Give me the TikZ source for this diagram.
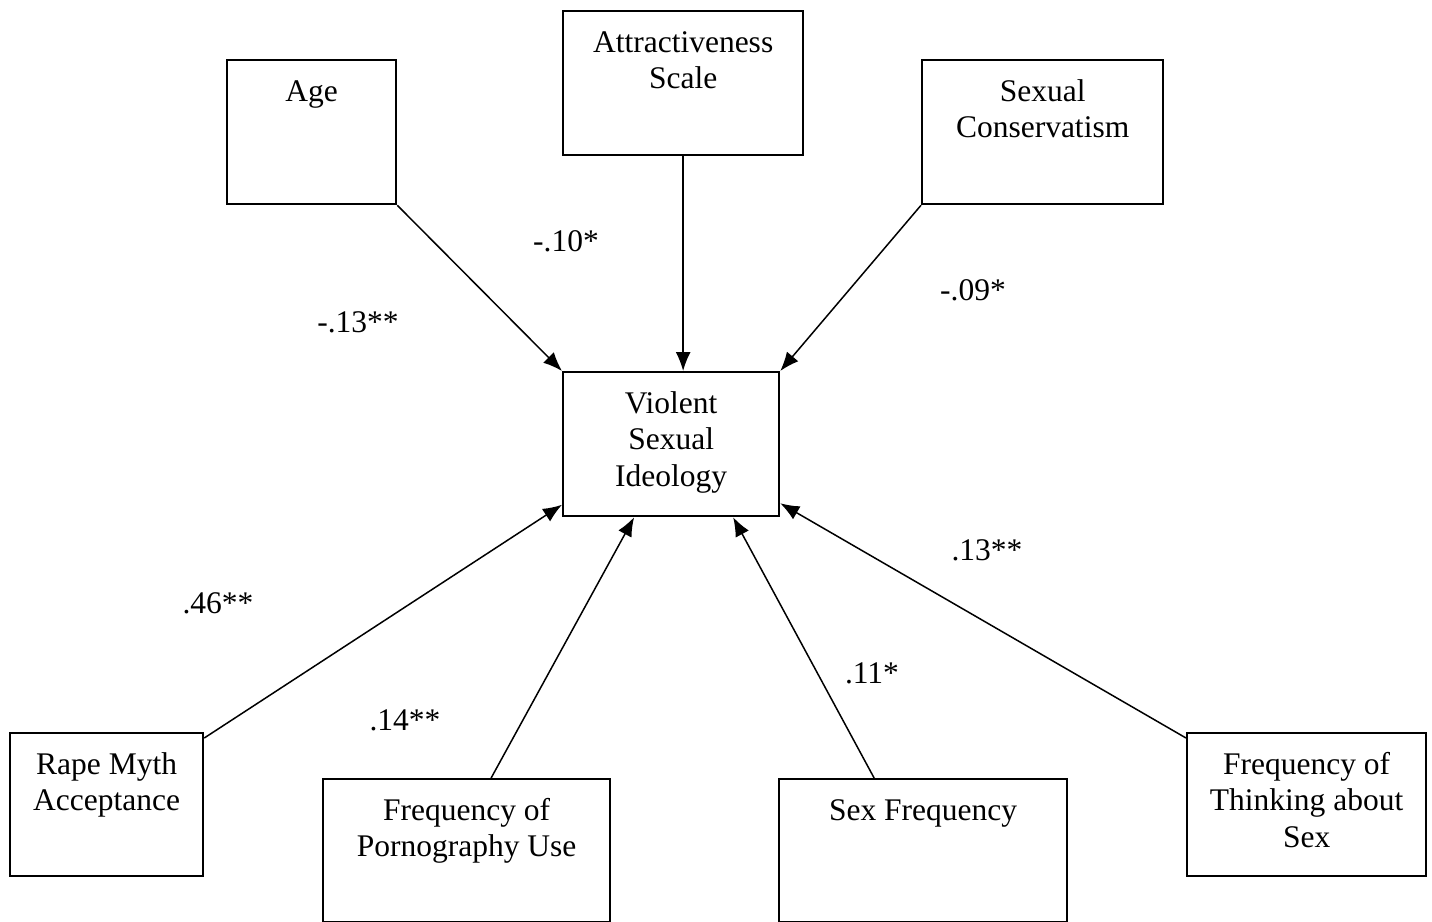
\documentclass[tikz,border=0pt]{standalone}
\usepackage{fontspec}
\setmainfont{Liberation Serif}
\usetikzlibrary{arrows.meta}

\newcommand{\boxtext}[3]{\parbox[t][#2][t]{#1}{\centering\vspace*{6.2pt}\strut#3}}

\begin{document}
\begin{tikzpicture}[x=0.4pt,y=-0.4pt,
    font=\fontsize{12.6}{14.6}\selectfont,
    var/.style={draw, line width=0.9pt, inner sep=0pt, anchor=north west},
    arr/.style={-{Latex[length=7.6pt,width=6pt]}, line width=0.6pt},
    coef/.style={inner sep=0pt}]
            \useasboundingbox (0,0) rectangle (1432,921);

            % outcome
            \node[var] (vsi) at (562,371) {\boxtext{86.4pt}{57.6pt}{Violent\\Sexual\\Ideology}};

            % predictors, top row
            \node[var] (age) at (226,59) {\boxtext{67.6pt}{57.6pt}{Age}};
            \node[var] (attract) at (562,10) {\boxtext{96pt}{57.6pt}{Attractiveness\\Scale}};
            \node[var] (conserv) at (921,59) {\boxtext{96.4pt}{57.6pt}{Sexual\\Conservatism}};

            % predictors, bottom row
            \node[var] (rma) at (9,732) {\boxtext{77.2pt}{57.2pt}{Rape Myth\\Acceptance}};
            \node[var] (porn) at (322,778) {\boxtext{114.8pt}{57.2pt}{Frequency of\\Pornography Use}};
            \node[var] (sexfreq) at (778,778) {\boxtext{115.2pt}{57.2pt}{Sex Frequency}};
            \node[var] (think) at (1186,732) {\boxtext{95.6pt}{57.2pt}{Frequency of\\Thinking about\\Sex}};

            \draw[arr] (age.south east) -- (vsi.north west);
            \draw[arr] (attract.south) -- (attract.south |- vsi.north);
            \draw[arr] (conserv.south west) -- (vsi.north east);
            \draw[arr] ([yshift=-2.4pt]rma.north east) -- ([yshift=5pt]vsi.south west);
            \draw[arr] ([xshift=9.8pt]porn.north) -- ([xshift=-14.8pt]vsi.south);
            \draw[arr] ([xshift=-19.6pt]sexfreq.north) -- ([xshift=24.8pt]vsi.south);
            \draw[arr] ([yshift=-2.4pt]think.north west) -- ([yshift=5.6pt]vsi.south east);

            % path coefficients
            \node[coef] (b1) at (358,322) {-.13**};
            \node[coef] (b2) at (566,241) {-.10*};
            \node[coef] (b3) at (973,290) {-.09*};
            \node[coef] (b4) at (218,603) {.46**};
            \node[coef] (b5) at (405,720) {.14**};
            \node[coef] (b6) at (872,673) {.11*};
            \node[coef] (b7) at (987,550) {.13**};

        \end{tikzpicture}
\end{document}
